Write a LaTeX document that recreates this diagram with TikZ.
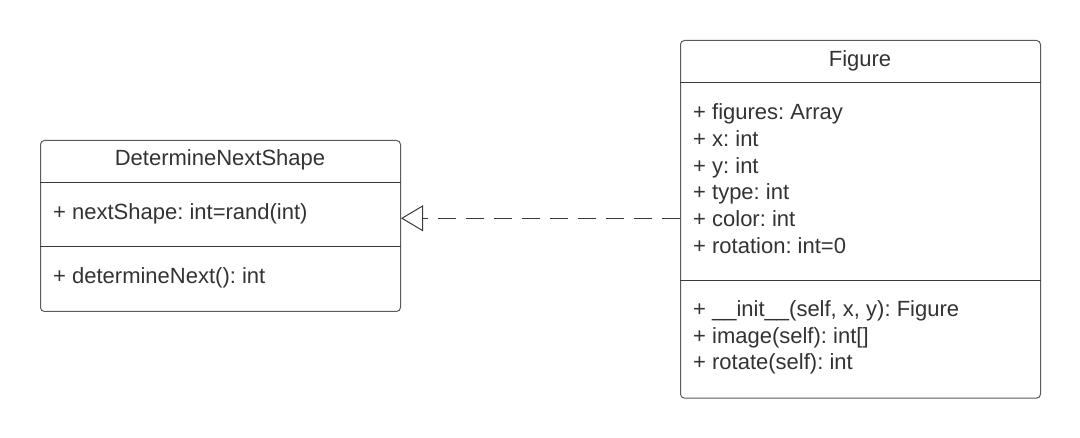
\documentclass[tikz,border=0pt]{standalone}
\usepackage{fontspec}
\setmainfont{Liberation Sans}
\usetikzlibrary{arrows.meta}
\definecolor{txt}{HTML}{333333}
\definecolor{ln}{HTML}{5A5A5A}
\definecolor{dv}{HTML}{3A3A3A}
\frenchspacing
\begin{document}
\begin{tikzpicture}[x=1pt,y=-1pt,
  classbox/.style={draw=ln, line width=1pt, rounded corners=4pt, fill=white, inner sep=0pt, anchor=north west},
  lbl/.style={font=\fontsize{22}{26}\selectfont, text=txt, inner sep=0pt, anchor=base west},
  ttl/.style={font=\fontsize{22}{26}\selectfont, text=txt, inner sep=0pt, anchor=base},
  divider/.style={draw=dv, line width=1pt},
  realize/.style={draw=dv, line width=1pt, dash pattern=on 18pt off 10pt, -{Triangle[open, length=22pt, width=26pt, fill=white, sep=0pt]}}]
\fill[white] (0,0) rectangle (1080,438);
\useasboundingbox (0,0) rectangle (1080,438);
% DetermineNextShape
\node[classbox, minimum width=360pt, minimum height=171pt] (dns) at (40,140) {};
\draw[divider] (dns.west |- 0,182.3) -- (dns.east |- 0,182.3);
\draw[divider] (dns.west |- 0,246.7) -- (dns.east |- 0,246.7);
\node[ttl] (dnsT) at (220,165.5) {DetermineNextShape};
\node[lbl] (dnsA) at (53,220) {+ nextShape: int=rand(int)};
\node[lbl] (dnsM) at (53,283.3) {+ determineNext(): int};
% Figure
\node[classbox, minimum width=360pt, minimum height=357.7pt] (fig) at (680,40) {};
\draw[divider] (fig.west |- 0,82.3) -- (fig.east |- 0,82.3);
\draw[divider] (fig.west |- 0,280.7) -- (fig.east |- 0,280.7);
\node[ttl] (figT) at (860,66.5) {Figure};
\node[lbl] (figA1) at (693,120) {+ figures: Array};
\node[lbl] (figA2) at (693,146.7) {+ x: int};
\node[lbl] (figA3) at (693,173.3) {+ y: int};
\node[lbl] (figA4) at (693,200) {+ type: int};
\node[lbl] (figA5) at (693,226.7) {+ color: int};
\node[lbl] (figA6) at (693,253.3) {+ rotation: int=0};
\node[lbl] (figM1) at (693,316.7) {+ \_\_init\_\_(self, x, y): Figure};
\node[lbl] (figM2) at (693,343.3) {+ image(self): int[]};
\node[lbl] (figM3) at (693,370) {+ rotate(self): int};
% realization
\coordinate (row) at (0,218.3);
\draw[realize] (fig.west |- row) -- (dns.east |- row);
\end{tikzpicture}
\end{document}
